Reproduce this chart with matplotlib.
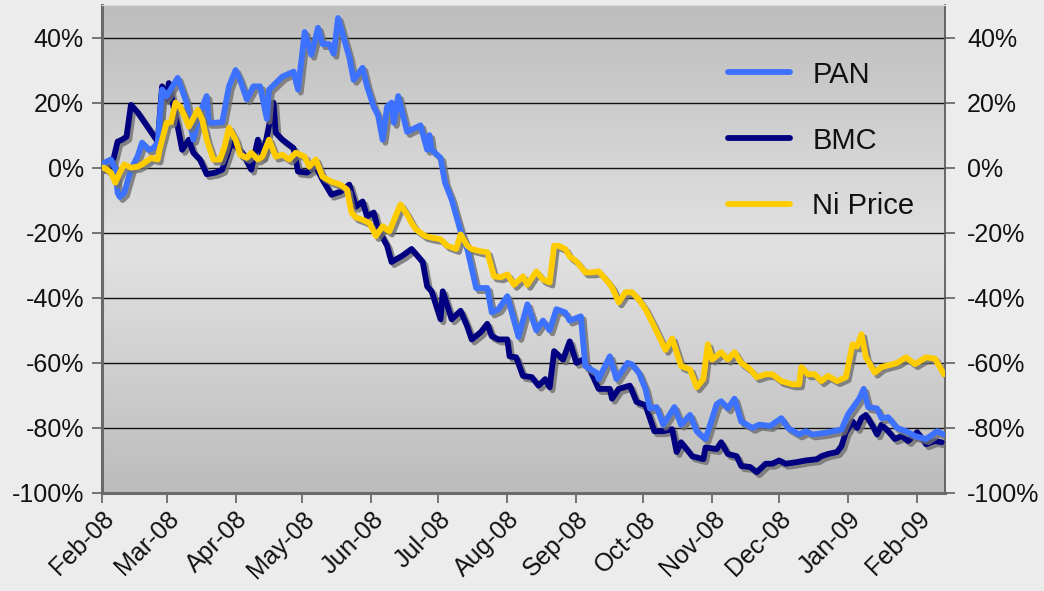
import numpy as np
import matplotlib
matplotlib.use('Agg')
import matplotlib.pyplot as plt
import matplotlib.dates as mdates
import matplotlib.patheffects as pe
from matplotlib.ticker import FuncFormatter, FixedLocator
from matplotlib.colors import LinearSegmentedColormap

plt.rcParams['font.family'] = ['Liberation Sans', 'DejaVu Sans']

start = np.datetime64('2008-02-01')

# ---- data: day offsets from 2008-02-01 and % change ----
pan_day = [0, 1, 4, 6, 7, 8, 10, 13, 16, 18, 21, 23, 25, 27, 29, 34, 38, 41, 44, 47, 48, 51, 54, 57, 60, 62,
           65, 68, 71, 74, 75, 81, 86, 88, 91, 94, 97, 99, 102, 104, 106, 111, 113, 117, 119, 122, 124, 126,
           128, 130, 131, 133, 137, 143, 146, 147, 148, 152, 154, 157, 161, 164, 168, 173, 175, 178, 182,
           187, 191, 195, 198, 201, 204, 208, 210, 215, 217, 222, 223, 228, 231, 236, 238, 241, 244, 246,
           249, 252, 257, 260, 264, 267, 271, 276, 278, 281, 284, 287, 292, 295, 300, 305, 308, 313, 316,
           319, 325, 332, 335, 340, 342, 344, 348, 350, 353, 357, 361, 365, 370, 375, 378]
pan_val = [0, 1.5, 2.5, -0.5, -7.7, -9, -7.7, -0.5, 3.5, 7.7, 5.5, 6, 7.7, 24, 22, 27.6, 20, 8.6, 17, 22, 13.8,
           13.8, 14, 25, 30, 27, 21, 25, 25, 15, 24, 28, 29.5, 24, 41.7, 34.7, 43, 38, 38, 35, 46, 34, 27, 30.7,
           25, 18.7, 16, 8.6, 18.7, 20, 13.8, 22, 11, 13, 5.5, 10, 5.5, 3, -4.6, -9.8, -19.5, -25, -37, -37,
           -44.5, -43.5, -39.5, -52, -42, -50, -47, -50, -43.5, -44.5, -47, -45.7, -61, -63, -65, -58, -65,
           -60, -60.5, -63, -68, -74, -73.6, -79, -73.6, -79, -76, -81, -83.4, -72.7, -71.8, -74, -71, -78,
           -80, -79, -79.4, -77, -80, -82, -81, -82, -81.5, -80.5, -75.8, -71, -68, -73.6, -74, -77, -76.7,
           -80, -81, -82.5, -83.4, -81, -82]

bmc_day = [0, 1, 4, 7, 9, 11, 13, 16, 20, 23, 25, 27, 29, 30, 33, 34, 36, 39, 41, 44, 47, 51, 54, 56, 58, 61,
           63, 67, 70, 72, 74, 77, 78, 81, 86, 88, 92, 96, 99, 103, 107, 111, 114, 117, 119, 122, 124, 128,
           130, 135, 139, 144, 146, 148, 152, 153, 157, 161, 164, 166, 170, 173, 175, 178, 182, 183, 186,
           189, 193, 196, 199, 201, 203, 207, 210, 213, 216, 219, 223, 228, 229, 232, 237, 240, 244, 248,
           252, 256, 258, 260, 265, 270, 271, 276, 278, 281, 285, 287, 291, 294, 298, 301, 304, 307, 312,
           316, 321, 323, 326, 330, 332, 334, 337, 339, 341, 343, 346, 348, 350, 353, 356, 359, 362, 366,
           370, 374, 377]
bmc_val = [0, 0.3, -0.6, 8, 8.6, 9.5, 19.3, 17, 13, 10, 8, 25, 21, 26, 15.6, 12.6, 5.5, 8.6, 4.6, 2.5, -2,
           -1.5, -0.6, 3.4, 7.7, 6, 4.6, -0.6, 8.6, 3.4, 9.5, 20, 10.7, 8.6, 6, -1.2, -1.5, 0.3, -3.7, -8.3,
           -7.4, -5.2, -12, -10.4, -15, -13.8, -19, -24, -29, -27, -25, -29, -36.5, -38, -46.6, -38, -46.6,
           -44, -48.8, -52.8, -50.6, -48, -51.8, -52.8, -52.8, -58, -58.3, -64, -64.4, -67, -65, -67.5,
           -56.4, -59, -53.4, -60, -59, -62, -68, -68, -71, -68, -67, -72, -73, -81, -81, -80.4, -87.4,
           -84.4, -88.7, -89.6, -86, -86.5, -84.4, -88, -88.7, -91.7, -92, -93.6, -91, -91, -90, -91, -90.5,
           -90, -89.6, -88.7, -88, -87.4, -85.6, -81.3, -78, -80, -77, -76, -79.4, -82, -79, -81, -83.4,
           -82.5, -84, -81.3, -85, -84, -84.4]

ni_day = [0, 1, 4, 6, 8, 10, 13, 16, 18, 22, 25, 26, 29, 31, 33, 35, 37, 39, 43, 45, 47, 50, 53, 55, 57, 60,
          62, 65, 67, 70, 72, 75, 78, 81, 84, 87, 91, 93, 96, 99, 103, 107, 110, 112, 114, 117, 120, 123,
          126, 129, 134, 137, 139, 141, 145, 148, 152, 155, 159, 161, 164, 166, 170, 173, 176, 179, 182,
          185, 189, 191, 195, 198, 201, 203, 205, 208, 210, 213, 217, 220, 223, 225, 227, 229, 232, 235,
          238, 241, 244, 247, 253, 256, 260, 264, 267, 270, 272, 274, 278, 281, 284, 287, 291, 294, 298,
          301, 305, 310, 313, 314, 317, 320, 323, 326, 330, 334, 337, 339, 341, 343, 347, 350, 355, 357,
          361, 365, 370, 374, 378]
ni_val = [0, 0, -1.5, -4.6, -1.5, 1, 0, 0.3, 1, 3, 2.5, 6, 13.8, 14, 20, 18.7, 16, 12.6, 17.8, 14.7, 8.6, 2.5,
          2.5, 6.4, 12.3, 8.6, 4, 3, 4.6, 2.5, 3.4, 8.6, 3.4, 4, 2.5, 4.6, 3.4, 0.3, 2.5, -2.8, -4.3, -5.2,
          -6.7, -13.8, -15.3, -16, -17, -21, -18, -19.6, -11.3, -14.4, -17, -19, -21, -21.5, -22, -24, -25,
          -20.5, -24, -25, -25.7, -26, -33.4, -33.7, -32.8, -36, -33.4, -36, -31.9, -34.4, -35.3, -24, -24,
          -25, -27.3, -28.8, -32.2, -32.2, -31.9, -33.4, -35, -36.8, -41.4, -38.3, -38.3, -40.5, -43.5,
          -47.5, -56, -52.5, -61, -62, -67.5, -65, -54.3, -59, -56.7, -59, -56.7, -60, -62, -64.4, -63.5,
          -63.5, -65.6, -66.6, -66.6, -61.3, -63.5, -63.5, -65.6, -64, -65.6, -64.4, -54.3, -55, -51.2,
          -58.3, -63, -61.3, -60.4, -60, -58.3, -60.4, -58.3, -58.7, -63.5]

series_names = ['PAN', 'BMC', 'Ni Price']
y_ticks = [-100, -80, -60, -40, -20, 0, 20, 40]

def to_dates(days):
    return start + np.array(days, dtype='timedelta64[D]')

W, H = 1044, 591
fig = plt.figure(figsize=(W / 100, H / 100), dpi=100)
fig.patch.set_facecolor('#ececec')

rect = [102 / W, 1 - 493 / H, (945 - 102) / W, (493 - 5) / H]

# gradient background of plot area
bg = fig.add_axes(rect, zorder=0)
cmap = LinearSegmentedColormap.from_list('g', [(0.0, '#bdbdbd'), (0.5, '#e2e2e2'), (1.0, '#bcbcbc')])
grad = np.linspace(0, 1, 256).reshape(-1, 1)
bg.imshow(grad, aspect='auto', cmap=cmap, extent=[0, 1, 0, 1], origin='upper')
bg.axis('off')

ax = fig.add_axes(rect, zorder=1)
ax.set_facecolor('none')

LW = 4.2
shadow = [pe.SimpleLineShadow(offset=(2.0, -2.2), shadow_color='#6f6f6f', alpha=0.8), pe.Normal()]

l_bmc, = ax.plot(to_dates(bmc_day), bmc_val, color='#000080', lw=LW, zorder=3,
                 path_effects=shadow, solid_joinstyle='round', solid_capstyle='round')
l_pan, = ax.plot(to_dates(pan_day), pan_val, color='#3d72ff', lw=LW, zorder=4,
                 path_effects=shadow, solid_joinstyle='round', solid_capstyle='round')
l_ni, = ax.plot(to_dates(ni_day), ni_val, color='#ffcc00', lw=LW, zorder=5,
                path_effects=shadow, solid_joinstyle='round', solid_capstyle='round')

ax.set_ylim(-100, 50)
ax.set_xlim(start, start + np.timedelta64(378, 'D') + np.timedelta64(12, 'h'))

for t in y_ticks:
    ax.axhline(t, color='#111111', lw=1.0, zorder=1)

FS = 18
ax.yaxis.set_major_locator(FixedLocator(y_ticks))
ax.yaxis.set_major_formatter(FuncFormatter(lambda v, p: f'{int(v)}%'))
ax.xaxis.set_major_locator(mdates.MonthLocator())
ax.xaxis.set_major_formatter(mdates.DateFormatter('%b-%y'))

ax.tick_params(axis='y', length=7, width=1.2, color='#606060', labelsize=FS, pad=6, labelcolor='#111111')
ax.tick_params(axis='x', length=7, width=1.2, color='#606060', labelsize=FS, pad=3, labelcolor='#111111')
for lab in ax.get_xticklabels():
    lab.set_rotation(45)
    lab.set_ha('right')
    lab.set_rotation_mode('anchor')

for s in ['left', 'bottom']:
    ax.spines[s].set_color('#6a6a6a')
    ax.spines[s].set_linewidth(2.2)
ax.spines['right'].set_color('#555555')
ax.spines['right'].set_linewidth(1.2)
ax.spines['top'].set_color('#d8d8d8')
ax.spines['top'].set_linewidth(1.0)

ax2 = ax.twinx()
ax2.set_ylim(ax.get_ylim())
ax2.yaxis.set_major_locator(FixedLocator(y_ticks))
ax2.yaxis.set_major_formatter(FuncFormatter(lambda v, p: f'{int(v)}%'))
ax2.tick_params(axis='y', length=7, width=1.2, color='#606060', labelsize=FS, pad=9, labelcolor='#111111')
for s in ax2.spines.values():
    s.set_visible(False)

LFS = 21
leg = ax.legend([l_pan, l_bmc, l_ni], series_names, loc='upper left',
                bbox_to_anchor=((716 - 102) / (945 - 102), 1 - (49 - 5) / (493 - 5)),
                frameon=False, fontsize=LFS, labelspacing=1.3, handlelength=2.15,
                handletextpad=0.75, borderaxespad=0, borderpad=0.4)
for h in leg.get_lines():
    h.set_path_effects([pe.Normal()])
    h.set_linewidth(LW)
for t in leg.get_texts():
    t.set_color('#111111')

fig.savefig('out.png', dpi=100, facecolor=fig.get_facecolor())
